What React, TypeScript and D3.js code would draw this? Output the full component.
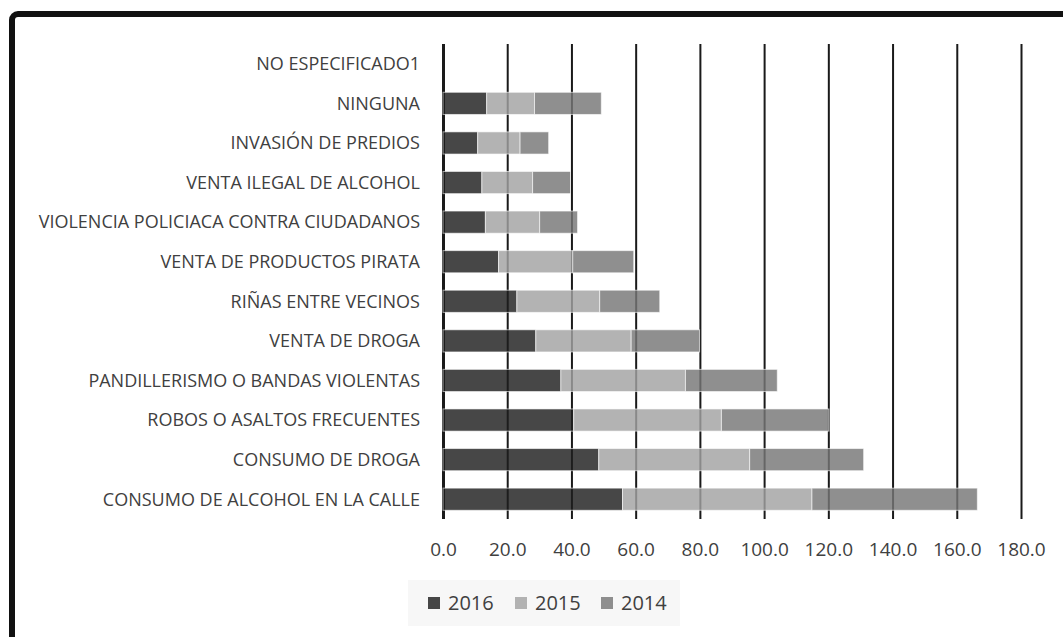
import React, { useEffect, useRef } from 'react';
import * as d3 from 'd3';

const categories = [
  'NO ESPECIFICADO1',
  'NINGUNA',
  'INVASIÓN DE PREDIOS',
  'VENTA ILEGAL DE ALCOHOL',
  'VIOLENCIA POLICIACA CONTRA CIUDADANOS',
  'VENTA DE PRODUCTOS PIRATA',
  'RIÑAS ENTRE VECINOS',
  'VENTA DE DROGA',
  'PANDILLERISMO O BANDAS VIOLENTAS',
  'ROBOS O ASALTOS FRECUENTES',
  'CONSUMO DE DROGA',
  'CONSUMO DE ALCOHOL EN LA CALLE',
];

const years = ['2016', '2015', '2014'];
const values2016 = [0, 13.6, 10.8, 12.1, 13.2, 17.3, 23.0, 28.9, 36.7, 40.7, 48.5, 55.9];
const values2015 = [0, 14.9, 13.2, 15.8, 16.9, 23.1, 25.8, 29.7, 38.8, 46.0, 47.0, 59.0];
const values2014 = [0, 20.8, 8.9, 11.8, 11.8, 19.0, 18.7, 21.3, 28.6, 33.5, 35.5, 51.5];
const xTicks = [0, 20, 40, 60, 80, 100, 120, 140, 160, 180];

// colours as seen over white, bars are slightly see-through so gridlines show
const colors = ['#1f1f1f', '#a2a2a2', '#767676'];
const FONT = '"Open Sans", sans-serif';

export default function App() {
  const ref = useRef<SVGSVGElement>(null);

  useEffect(() => {
    const width = 1063;
    const height = 637;
    const svg = d3.select(ref.current);
    svg.selectAll('*').remove();

    const rows = categories.map((c, i) => ({
      cat: c,
      '2016': values2016[i],
      '2015': values2015[i],
      '2014': values2014[i],
    }));
    const stacked = d3.stack<any>().keys(years)(rows);

    const x = d3.scaleLinear().domain([0, 180]).range([443, 1021]);
    const y = d3.scaleBand()
      .domain(categories)
      .range([44, 519])
      .paddingInner(0.44)
      .paddingOuter(0.22);

    svg.append('rect').attr('width', width).attr('height', height).attr('fill', '#fff');

    // gridlines
    const axis = svg.append('g')
      .attr('transform', 'translate(0,519)')
      .call(d3.axisBottom(x).tickValues(xTicks).tickSize(-475).tickPadding(24).tickFormat(d3.format('.1f')));
    axis.select('.domain').remove();
    axis.selectAll('line')
      .attr('stroke', '#1a1a1a')
      .attr('stroke-width', (d: any) => (d === 0 ? 3 : 2));
    axis.selectAll('text')
      .attr('font-family', FONT)
      .attr('font-size', 19)
      .attr('fill', '#404040');

    // bars
    svg.append('g')
      .selectAll('g')
      .data(stacked)
      .join('g')
      .attr('fill', (d, i) => colors[i])
      .selectAll('rect')
      .data(d => d.filter(p => p[1] - p[0] > 0))
      .join('rect')
      .attr('x', d => x(d[0]))
      .attr('y', d => y(d.data.cat)!)
      .attr('width', d => x(d[1]) - x(d[0]))
      .attr('height', y.bandwidth())
      .attr('fill-opacity', 0.82)
      .attr('stroke', '#ffffff')
      .attr('stroke-opacity', 0.6)
      .attr('stroke-width', 1);

    // category labels
    svg.append('g')
      .selectAll('text')
      .data(categories)
      .join('text')
      .attr('x', 420)
      .attr('y', d => y(d)! + y.bandwidth() / 2)
      .attr('dy', '0.35em')
      .attr('text-anchor', 'end')
      .attr('font-family', FONT)
      .attr('font-size', 18)
      .attr('fill', '#404040')
      .text(d => d);

    // legend
    const legend = svg.append('g');
    legend.append('rect')
      .attr('x', 408).attr('y', 580).attr('width', 272).attr('height', 46)
      .attr('fill', '#f7f7f7');
    const lx = [428, 515, 601];
    years.forEach((yr, i) => {
      legend.append('rect')
        .attr('x', lx[i]).attr('y', 597).attr('width', 12).attr('height', 12)
        .attr('fill', colors[i]).attr('fill-opacity', 0.82);
      legend.append('text')
        .attr('x', lx[i] + 20).attr('y', 603).attr('dy', '0.35em')
        .attr('font-family', FONT).attr('font-size', 20).attr('fill', '#404040')
        .text(yr);
    });

    // chart frame (runs off the right and bottom of the picture)
    svg.append('rect')
      .attr('x', 12).attr('y', 14).attr('width', 1100).attr('height', 700)
      .attr('rx', 6)
      .attr('fill', 'none')
      .attr('stroke', '#111')
      .attr('stroke-width', 6);
  }, []);

  return (
    <svg
      ref={ref}
      width={1063}
      height={637}
      style={{ position: 'absolute', left: 0, top: 0, display: 'block' }}
    />
  );
}
